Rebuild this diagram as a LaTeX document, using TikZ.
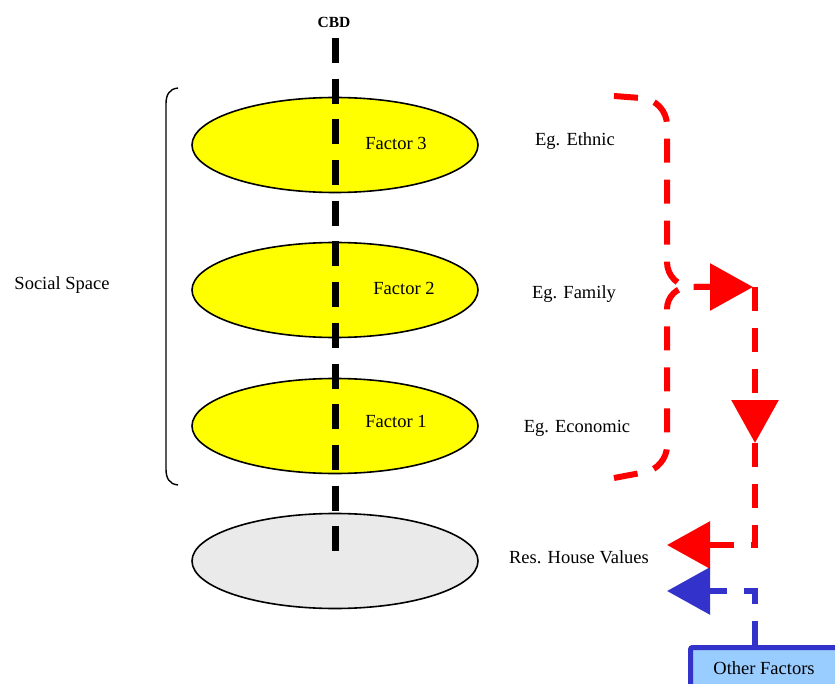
\documentclass[tikz,border=0pt]{standalone}
\usepackage{fontspec}
\setmainfont{Liberation Serif}
\usetikzlibrary{arrows.meta,shapes.geometric}
\definecolor{layeryellow}{HTML}{FFFF00}
\definecolor{layergrey}{HTML}{EAEAEA}
\definecolor{flowred}{HTML}{FF0000}
\definecolor{flowblue}{HTML}{3333CC}
\definecolor{boxblue}{HTML}{99CCFF}
\begin{document}
\begin{tikzpicture}[x=1pt,y=-1pt,
  lbl/.style={font=\fontsize{18.5}{21}\selectfont, inner sep=0pt},
  layer/.style={ellipse, draw=black, line width=1.6pt, minimum width=286pt, minimum height=95pt, inner sep=0pt},
  cbdline/.style={line width=7pt, dash pattern=on 25pt off 15.7pt},
  redline/.style={draw=flowred, line width=6pt, dash pattern=on 24pt off 17pt},
  blueline/.style={draw=flowblue, line width=6pt, dash pattern=on 24pt off 17pt},
  bigtip/.style={-{Triangle[length=43pt,width=46pt]}},
  ofbox/.style={draw=flowblue, fill=boxblue, line width=5pt, rounded corners=2pt, minimum width=170pt, minimum height=60pt, inner sep=0pt, anchor=north west}]
\useasboundingbox (0,0) rectangle (835,684);

% layers
\node[layer, fill=layeryellow] (f3) at (335,145) {};
\node[layer, fill=layeryellow] (f2) at (335,290) {};
\node[layer, fill=layeryellow] (f1) at (335,426) {};
\node[layer, fill=layergrey] (rhv) at (335,561) {};

% CBD axis
\node[font=\fontsize{15.5}{18}\selectfont\bfseries, inner sep=0pt] (cbd) at (334,22) {CBD};
\coordinate (axtop) at (335,38);
\coordinate (axbot) at (335,551);
\draw[cbdline] (axtop) -- (axbot);

% layer labels
\node[lbl] (t3) at (396,143) {Factor 3};
\node[lbl] (t2) at (404,288) {Factor 2};
\node[lbl] (t1) at (396,421) {Factor 1};

% social space bracket
\node[lbl] (ss) at (62,285) {Social Space};
\coordinate (brtop) at (178,88);
\coordinate (brbot) at (178,485);
\draw[line width=1.4pt] (brtop) .. controls (169,89) and (166,95) .. (166,104) -- (166,469) .. controls (166,478) and (169,484) .. (brbot);

% examples
\node[lbl] (e3) at (575,141) {Eg. Ethnic};
\node[lbl] (e2) at (574,294) {Eg. Family};
\node[lbl] (e1) at (577,428) {Eg. Economic};
\node[lbl] (ehv) at (579,557) {Res. House Values};

% red brace
\coordinate (b1) at (614,96);
\coordinate (b2) at (667,100);
\coordinate (bm) at (667,287);
\coordinate (bj) at (712,287);
\coordinate (b3) at (614,478);
\coordinate (b4) at (667,468);
\coordinate (atip) at (753,287);
\draw[redline, rounded corners=25pt] (b1) -- (b2) -- (bm) -- (bj);
\draw[redline, rounded corners=22pt] (b3) -- (b4) -- (bm) -- (bj);
\draw[redline, bigtip] (bj) -- (atip);

% red down path
\coordinate (d0) at (755,287);
\coordinate (dm) at (755,443);
\coordinate (dc) at (755,545);
\coordinate (rtip) at (667,545);
\draw[redline, bigtip] (d0) -- (dm);
\draw[redline, bigtip] (dm) -- (dc) -- (rtip);

% other factors
\node[ofbox] (of) at (688,645) {};
\node[lbl] (oft) at (764,668) {Other Factors};
\coordinate (bc) at (755,591);
\coordinate (btip) at (667,591);
\draw[blueline, bigtip] (of.north -| bc) -- (bc) -- (btip);
\end{tikzpicture}
\end{document}
